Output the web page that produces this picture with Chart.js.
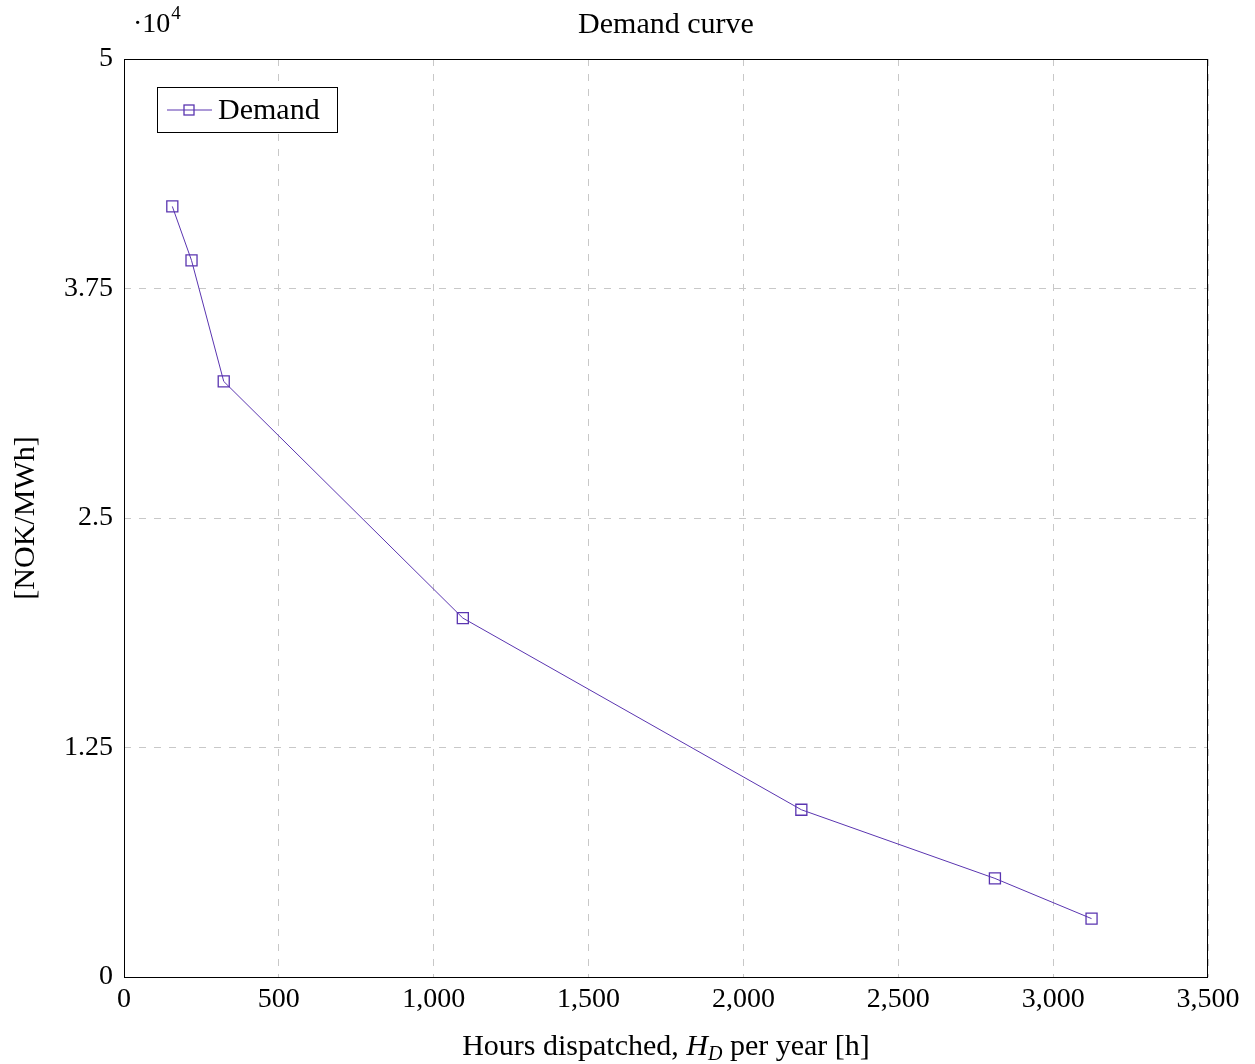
<!DOCTYPE html>
<html>
<head>
<meta charset="utf-8">
<script src="https://cdn.jsdelivr.net/npm/chart.js@4/dist/chart.umd.min.js"></script>
<style>
  html, body { margin: 0; padding: 0; background: #ffffff; }
  #wrap { width: 1255px; height: 1064px; position: relative; }
</style>
</head>
<body>
<div id="wrap"><canvas id="c" width="1255" height="1064"></canvas></div>
<script>
// ---- data ----
const hoursDispatched = [156, 218, 322, 1094, 2187, 2812, 3124];
const demandPrice = [41970, 39030, 32440, 19550, 9110, 5370, 3180];
const seriesLabel = 'Demand';
const xTicks = [0, 500, 1000, 1500, 2000, 2500, 3000, 3500];
const yTicks = [0, 12500, 25000, 37500, 50000];
const chartTitle = 'Demand curve';
const yAxisTitle = '[NOK/MWh]';
const xTitleParts = [['Hours dispatched, ', 'normal'], ['H', 'italic'], ['D', 'sub'], [' per year [h]', 'normal']];
const yScaleLabel = ['·10', '4'];

const FONT = '"Liberation Serif", "DejaVu Serif", serif';
const LINE = '#5a35b0';

const decorPlugin = {
  id: 'decor',
  afterDraw(chart) {
    const ctx = chart.ctx;
    const a = chart.chartArea;
    ctx.save();
    // frame
    ctx.strokeStyle = '#000';
    ctx.lineWidth = 1;
    ctx.setLineDash([]);
    ctx.strokeRect(Math.round(a.left) + 0.5, Math.round(a.top) + 0.5,
                   Math.round(a.right - a.left) - 1, Math.round(a.bottom - a.top));
    // title
    ctx.fillStyle = '#000';
    ctx.textAlign = 'center';
    ctx.textBaseline = 'alphabetic';
    ctx.font = '30px ' + FONT;
    ctx.fillText(chartTitle, (a.left + a.right) / 2, 33);
    // scale label ·10^4
    ctx.textAlign = 'left';
    ctx.font = '28px ' + FONT;
    ctx.fillText(yScaleLabel[0], 133, 32);
    const w0 = ctx.measureText(yScaleLabel[0]).width;
    ctx.font = '19px ' + FONT;
    ctx.fillText(yScaleLabel[1], 133 + w0 + 1, 19);
    // x title with italic H_D
    const parts = xTitleParts.map(([t, s]) => {
      const f = s === 'normal' ? '30px ' + FONT : (s === 'italic' ? 'italic 30px ' + FONT : 'italic 20px ' + FONT);
      ctx.font = f;
      return { t, s, f, w: ctx.measureText(t).width };
    });
    const total = parts.reduce((s, p) => s + p.w, 0);
    let x = (a.left + a.right) / 2 - total / 2;
    const baseY = 1055;
    for (const p of parts) {
      ctx.font = p.f;
      ctx.fillText(p.t, x, p.s === 'sub' ? baseY + 5 : baseY);
      x += p.w;
    }
    // legend
    const ds = chart.data.datasets[0];
    const lx = 157, ly = 87, lw = 180, lh = 45;
    ctx.fillStyle = '#fff';
    ctx.fillRect(lx, ly, lw, lh);
    ctx.strokeStyle = '#000';
    ctx.lineWidth = 1;
    ctx.strokeRect(lx + 0.5, ly + 0.5, lw, lh);
    const cy = ly + lh / 2 + 0.5;
    ctx.strokeStyle = ds.borderColor;
    ctx.beginPath();
    ctx.moveTo(167, cy);
    ctx.lineTo(212, cy);
    ctx.stroke();
    ctx.lineWidth = ds.pointBorderWidth;
    ctx.strokeRect(189 - 5, cy - 5, 10, 10);
    ctx.fillStyle = '#000';
    ctx.font = '30px ' + FONT;
    ctx.textBaseline = 'middle';
    ctx.fillText(ds.label, 218, cy + 1);
    ctx.restore();
  }
};

new Chart(document.getElementById('c'), {
  type: 'scatter',
  data: {
    datasets: [{
      label: seriesLabel,
      data: hoursDispatched.map((h, i) => ({ x: h, y: demandPrice[i] })),
      showLine: true,
      borderColor: LINE,
      borderWidth: 1,
      pointStyle: 'rect',
      pointRadius: 7.8,
      pointBorderWidth: 1.3,
      pointBorderColor: LINE,
      pointBackgroundColor: 'rgba(0,0,0,0)',
      tension: 0
    }]
  },
  options: {
    responsive: false,
    animation: false,
    devicePixelRatio: 1,
    layout: { padding: { left: 0, right: 47, top: 59, bottom: 0 } },
    plugins: { legend: { display: false }, title: { display: false }, tooltip: { enabled: false } },
    scales: {
      x: {
        type: 'linear',
        min: 0, max: 3500,
        afterBuildTicks(scale) { scale.ticks = xTicks.map(v => ({ value: v })); },
        afterFit(scale) { scale.height = 87; },
        grid: { color: '#c8c8c8', lineWidth: 1, drawTicks: false },
        border: { display: false, dash: [7, 8] },
        ticks: {
          color: '#000', padding: 6,
          font: { family: FONT, size: 28 },
          callback: v => v.toLocaleString('en-US')
        }
      },
      y: {
        type: 'linear',
        min: 0, max: 50000,
        afterBuildTicks(scale) { scale.ticks = yTicks.map(v => ({ value: v })); },
        afterFit(scale) { scale.width = 124; },
        grid: { color: '#c8c8c8', lineWidth: 1, drawTicks: false },
        border: { display: false, dash: [7, 8] },
        ticks: {
          color: '#000', padding: 11,
          font: { family: FONT, size: 28 },
          callback: v => String(v / 10000)
        },
        title: {
          display: true, text: yAxisTitle, color: '#000',
          font: { family: FONT, size: 30 },
          padding: { top: 8, bottom: 0 }
        }
      }
    }
  },
  plugins: [decorPlugin]
});
</script>
</body>
</html>
